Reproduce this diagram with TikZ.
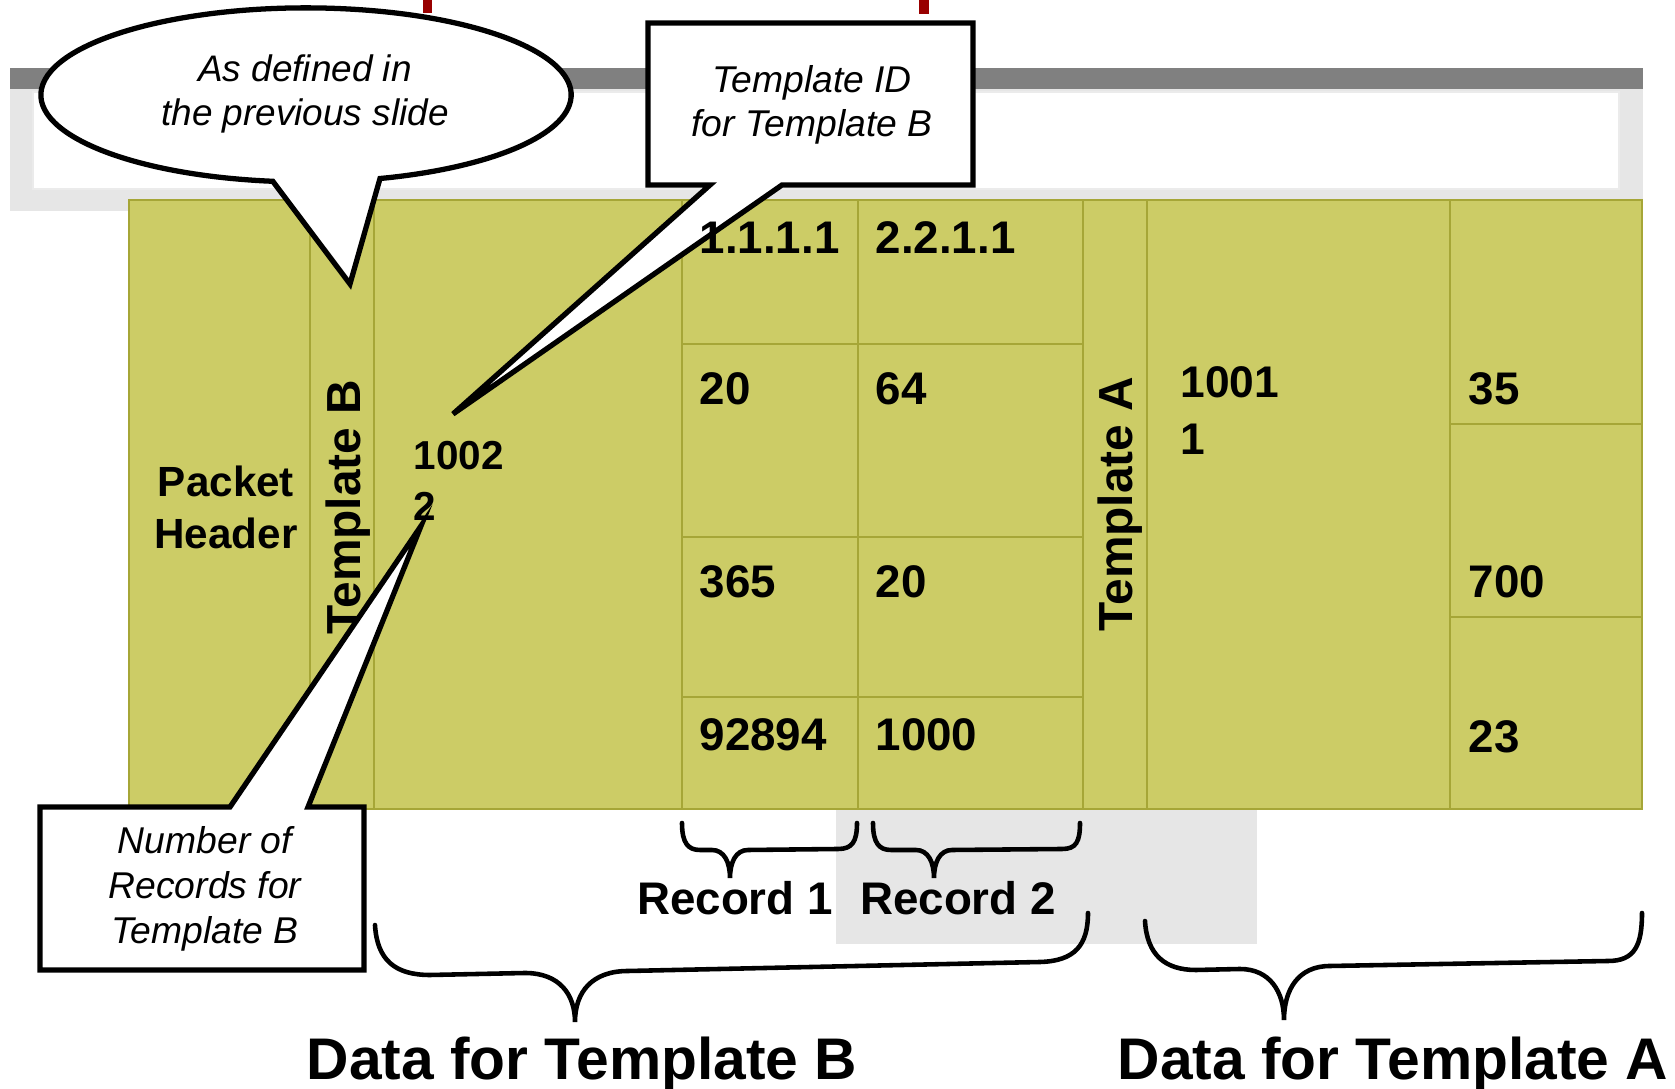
\documentclass[tikz,border=0pt]{standalone}
\usepackage{fontspec}
\setmainfont{Liberation Sans}
\definecolor{cellfill}{HTML}{CCCC66}
\definecolor{celledge}{HTML}{A6A637}
\definecolor{bargray}{HTML}{808080}
\definecolor{framegray}{HTML}{E6E6E6}
\definecolor{markred}{HTML}{990000}
\tikzset{
  cellline/.style={draw=celledge,line width=0.6pt},
  numtxt/.style={anchor=west,inner sep=0pt,font=\bfseries\fontsize{13}{15.6}\selectfont},
  tpltxt/.style={rotate=90,inner sep=0pt,font=\bfseries\fontsize{13.6}{16}\selectfont},
  notetxt/.style={align=center,inner sep=0pt,font=\itshape\fontsize{10.6}{12.5}\selectfont},
  notebox/.style={draw=black,fill=white,line width=1.5pt},
  bracepath/.style={draw=black,line width=1.3pt,line cap=round},
  reclabel/.style={inner sep=0pt,font=\bfseries\fontsize{13}{15.6}\selectfont},
  datalabel/.style={anchor=base,inner sep=0pt,font=\bfseries\fontsize{16.7}{20}\selectfont}
}
\begin{document}
\begin{tikzpicture}[x=0.01cm,y=-0.01cm]
  \useasboundingbox (0,0) rectangle (1675,1089);
  % slide frame behind the packet
  \fill[framegray] (10,89) rectangle (1643,211);
  \fill[white,draw=black!8] (33,92) rectangle (1619,189);
  \fill[bargray] (10,68) rectangle (1643,89);
  \fill[markred] (423,0) rectangle (432,13);
  \fill[markred] (919,0) rectangle (929,14);
  \fill[framegray] (836,809) rectangle (1257,944);

  % packet cells
  \fill[cellfill] (129,200) rectangle (1642,809);
  \draw[cellline] (129,200) rectangle (1642,809);
  \foreach \x in {310,374,682,858,1083,1147,1450}
    \draw[cellline] (\x,200) -- (\x,809);
  \foreach \y in {344,537,697}
    \draw[cellline] (682,\y) -- (1083,\y);
  \foreach \y in {424,617}
    \draw[cellline] (1450,\y) -- (1642,\y);

  \node[align=center,inner sep=0pt,font=\bfseries\fontsize{12}{14.8}\selectfont] (hdr) at (226,507) {Packet\\Header};
  \node[tpltxt] (tplB) at (348,507) {Template B};
  \node[tpltxt] (tplA) at (1120,504) {Template A};

  % callouts
  \filldraw[notebox] (350,284) -- (272.8,181.3)
    arc[start angle=-97.2,end angle=-433.8,x radius=2.65cm,y radius=0.87cm] -- cycle;
  \node[notetxt,font=\itshape\fontsize{10.5}{12.3}\selectfont] (defnote) at (305,94) {As defined in\\the previous slide};
%%%
  \filldraw[notebox] (648,23) -- (973,23) -- (973,185) -- (782,185)
    -- (453,414) -- (710,185) -- (648,185) -- cycle;
  \node[notetxt] (idnote) at (812,105) {Template ID\\for Template B};
%%%
  \filldraw[notebox] (40,807) -- (230,807) -- (421,526) -- (308,807)
    -- (364,807) -- (364,970) -- (40,970) -- cycle;
  \node[notetxt,font=\itshape\fontsize{10.6}{12.7}\selectfont] (cntnote) at (205,889) {Number of\\Records for\\Template B};

  % cell values
  \node[numtxt,align=left,font=\bfseries\fontsize{11.5}{14.5}\selectfont] (idB) at (413,481) {1002\\2};
  \node[numtxt,align=left,font=\bfseries\fontsize{12.6}{16.2}\selectfont] (idA) at (1180,411) {1001\\1};
  \node[numtxt] (r1a) at (699,238) {1.1.1.1};
  \node[numtxt] (r1b) at (699,389) {20};
  \node[numtxt] (r1c) at (699,582) {365};
  \node[numtxt] (r1d) at (699,735) {92894};
  \node[numtxt] (r2a) at (875,238) {2.2.1.1};
  \node[numtxt] (r2b) at (875,389) {64};
  \node[numtxt] (r2c) at (875,582) {20};
  \node[numtxt] (r2d) at (875,735) {1000};
  \node[numtxt] (vA1) at (1468,389) {35};
  \node[numtxt] (vA2) at (1468,582) {700};
  \node[numtxt] (vA3) at (1468,737) {23};

  % braces
  \draw[bracepath] (682,823) .. controls (682,843) and (688,850) .. (700,850)
    -- (712,850) .. controls (724,850) and (730,862) .. (730,878)
    .. controls (730,862) and (736,850) .. (748,850)
    -- (838,849) .. controls (852,849) and (857,842) .. (857,823);
  \draw[bracepath] (873,823) .. controls (873,843) and (879,850) .. (891,850)
    -- (916,850) .. controls (928,850) and (934,862) .. (934,878)
    .. controls (934,862) and (940,850) .. (952,850)
    -- (1062,849) .. controls (1076,849) and (1080,842) .. (1080,823);
  \draw[bracepath] (375,925) .. controls (377,960) and (395,975) .. (430,975)
    -- (525,973) .. controls (560,973) and (575,995) .. (575,1022)
    .. controls (575,992) and (592,971) .. (628,971)
    -- (1040,962) .. controls (1075,961) and (1088,945) .. (1088,913);
  \draw[bracepath] (1145,921) .. controls (1147,955) and (1165,970) .. (1196,970)
    -- (1240,969) .. controls (1270,969) and (1284,992) .. (1284,1020)
    .. controls (1284,990) and (1298,966) .. (1330,966)
    -- (1608,961) .. controls (1635,961) and (1642,945) .. (1642,913);

  \node[reclabel] (rec1) at (735,898) {Record 1};
  \node[reclabel] (rec2) at (958,898) {Record 2};
  \node[datalabel] (dataB) at (582,1080) {Data for Template B};
  \node[datalabel] (dataA) at (1393,1080) {Data for Template A};
\end{tikzpicture}
\end{document}
